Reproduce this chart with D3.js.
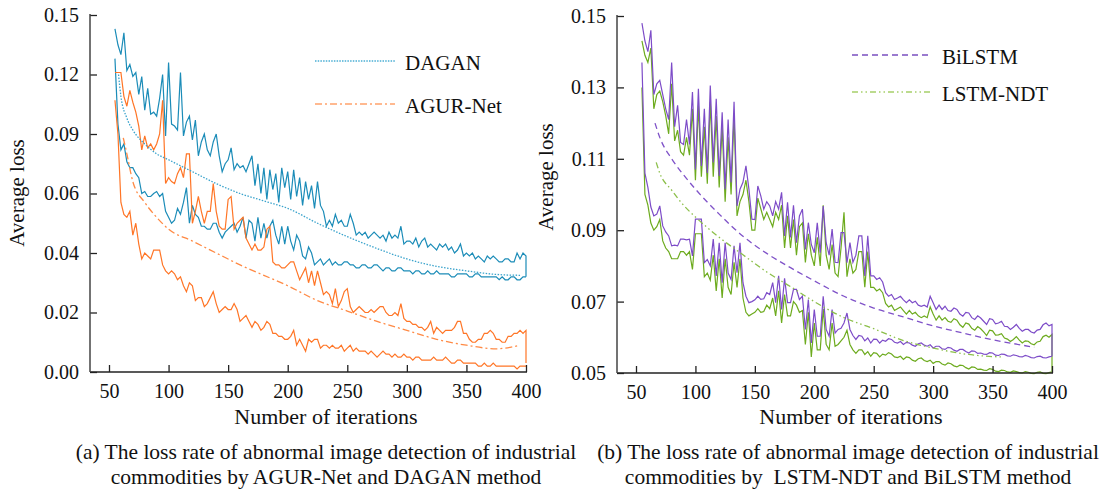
<!DOCTYPE html>
<html>
<head>
<meta charset="utf-8">
<script src="https://cdn.jsdelivr.net/npm/d3@7"></script>
<style>
    body { margin: 0; background: #fff; }
    svg text { font-family: "Liberation Serif", "Times New Roman", serif; fill: #111; }
</style>
</head>
<body>
<svg id="chart" width="1101" height="492"></svg>
<script>
// iterations shared by every noisy curve (the repeated 400 closes the band)
const iterations = [55, 57.5, 60, 62.5, 65, 67.5, 70, 72.5, 75, 77.5,
    80, 82.5, 85, 87.5, 90, 92.5, 95, 97.5, 100, 102.5,
    105, 107.5, 110, 112.5, 115, 117.5, 120, 122.5, 125, 127.5,
    130, 132.5, 135, 137.5, 140, 142.5, 145, 147.5, 150, 152.5,
    155, 157.5, 160, 162.5, 165, 167.5, 170, 172.5, 175, 177.5,
    180, 182.5, 185, 187.5, 190, 192.5, 195, 197.5, 200, 202.5,
    205, 207.5, 210, 212.5, 215, 217.5, 220, 222.5, 225, 227.5,
    230, 232.5, 235, 237.5, 240, 242.5, 245, 247.5, 250, 252.5,
    255, 257.5, 260, 262.5, 265, 267.5, 270, 272.5, 275, 277.5,
    280, 282.5, 285, 287.5, 290, 292.5, 295, 297.5, 300, 302.5,
    305, 307.5, 310, 312.5, 315, 317.5, 320, 322.5, 325, 327.5,
    330, 332.5, 335, 337.5, 340, 342.5, 345, 347.5, 350, 352.5,
    355, 357.5, 360, 362.5, 365, 367.5, 370, 372.5, 375, 377.5,
    380, 382.5, 385, 387.5, 390, 392.5, 395, 397.5, 400, 400];

const xTicks = [50, 100, 150, 200, 250, 300, 350, 400];
const yTicksA = [0.00, 0.02, 0.04, 0.06, 0.09, 0.12, 0.15];
const yTicksB = [0.05, 0.07, 0.09, 0.11, 0.13, 0.15];

// panel (a)
const daganUpper = [0.143, 0.135, 0.130, 0.141, 0.122, 0.125, 0.119, 0.121, 0.110, 0.119,
    0.102, 0.113, 0.100, 0.101, 0.099, 0.108, 0.120, 0.089, 0.126, 0.095,
    0.094, 0.092, 0.121, 0.089, 0.096, 0.099, 0.087, 0.097, 0.079, 0.086,
    0.090, 0.082, 0.079, 0.086, 0.090, 0.079, 0.071, 0.075, 0.077, 0.083,
    0.072, 0.075, 0.073, 0.074, 0.071, 0.075, 0.079, 0.064, 0.075, 0.060,
    0.073, 0.058, 0.072, 0.062, 0.070, 0.057, 0.073, 0.063, 0.071, 0.058,
    0.072, 0.059, 0.068, 0.056, 0.066, 0.058, 0.064, 0.055, 0.066, 0.056,
    0.054, 0.049, 0.051, 0.049, 0.053, 0.050, 0.051, 0.049, 0.049, 0.053,
    0.050, 0.046, 0.047, 0.046, 0.047, 0.045, 0.046, 0.047, 0.046, 0.045,
    0.046, 0.044, 0.047, 0.045, 0.046, 0.045, 0.049, 0.043, 0.044, 0.044,
    0.043, 0.045, 0.042, 0.044, 0.045, 0.042, 0.043, 0.042, 0.041, 0.043,
    0.042, 0.043, 0.041, 0.042, 0.040, 0.041, 0.043, 0.039, 0.040, 0.039,
    0.040, 0.038, 0.039, 0.038, 0.037, 0.039, 0.038, 0.039, 0.038, 0.037,
    0.037, 0.038, 0.038, 0.037, 0.037, 0.040, 0.038, 0.040, 0.039, 0.032];
const daganLower = [0.128, 0.095, 0.082, 0.085, 0.076, 0.073, 0.073, 0.070, 0.068, 0.060,
    0.061, 0.059, 0.059, 0.060, 0.061, 0.059, 0.060, 0.054, 0.052, 0.050,
    0.051, 0.055, 0.053, 0.057, 0.063, 0.050, 0.056, 0.053, 0.052, 0.049,
    0.049, 0.048, 0.048, 0.050, 0.050, 0.047, 0.045, 0.047, 0.048, 0.049,
    0.050, 0.047, 0.049, 0.052, 0.045, 0.051, 0.050, 0.044, 0.052, 0.045,
    0.050, 0.045, 0.049, 0.051, 0.046, 0.043, 0.049, 0.043, 0.049, 0.044,
    0.041, 0.046, 0.044, 0.039, 0.038, 0.042, 0.040, 0.036, 0.037, 0.038,
    0.036, 0.037, 0.038, 0.036, 0.037, 0.036, 0.036, 0.037, 0.037, 0.036,
    0.036, 0.035, 0.035, 0.036, 0.036, 0.035, 0.035, 0.036, 0.036, 0.035,
    0.034, 0.035, 0.035, 0.034, 0.034, 0.035, 0.035, 0.034, 0.034, 0.034,
    0.033, 0.034, 0.034, 0.033, 0.033, 0.034, 0.033, 0.033, 0.034, 0.033,
    0.033, 0.033, 0.033, 0.032, 0.032, 0.033, 0.033, 0.033, 0.033, 0.032,
    0.032, 0.033, 0.033, 0.032, 0.032, 0.032, 0.032, 0.032, 0.032, 0.031,
    0.032, 0.031, 0.031, 0.032, 0.032, 0.031, 0.031, 0.032, 0.032, 0.032];
const agurUpper = [0.121, 0.121, 0.121, 0.109, 0.104, 0.112, 0.106, 0.101, 0.094, 0.082,
    0.089, 0.083, 0.085, 0.082, 0.085, 0.090, 0.107, 0.065, 0.068, 0.066,
    0.065, 0.070, 0.073, 0.068, 0.080, 0.080, 0.050, 0.054, 0.059, 0.054,
    0.050, 0.054, 0.054, 0.065, 0.054, 0.049, 0.048, 0.048, 0.058, 0.059,
    0.048, 0.050, 0.051, 0.052, 0.045, 0.043, 0.041, 0.043, 0.041, 0.041,
    0.042, 0.048, 0.049, 0.037, 0.036, 0.036, 0.035, 0.035, 0.036, 0.037,
    0.037, 0.034, 0.031, 0.033, 0.035, 0.030, 0.034, 0.029, 0.034, 0.030,
    0.026, 0.027, 0.026, 0.023, 0.028, 0.022, 0.024, 0.027, 0.028, 0.022,
    0.020, 0.021, 0.022, 0.021, 0.020, 0.020, 0.021, 0.020, 0.021, 0.022,
    0.022, 0.020, 0.019, 0.019, 0.020, 0.019, 0.023, 0.018, 0.017, 0.017,
    0.016, 0.016, 0.015, 0.015, 0.014, 0.015, 0.017, 0.013, 0.015, 0.014,
    0.013, 0.014, 0.014, 0.014, 0.015, 0.017, 0.017, 0.013, 0.013, 0.011,
    0.010, 0.010, 0.011, 0.011, 0.013, 0.013, 0.014, 0.013, 0.011, 0.011,
    0.010, 0.010, 0.012, 0.012, 0.013, 0.013, 0.014, 0.013, 0.014, 0.003];
const agurLower = [0.107, 0.090, 0.057, 0.053, 0.052, 0.054, 0.046, 0.050, 0.043, 0.038,
    0.040, 0.039, 0.038, 0.041, 0.041, 0.041, 0.036, 0.034, 0.033, 0.034,
    0.033, 0.031, 0.032, 0.029, 0.027, 0.030, 0.029, 0.024, 0.025, 0.025,
    0.022, 0.023, 0.025, 0.027, 0.023, 0.020, 0.021, 0.022, 0.021, 0.021,
    0.023, 0.021, 0.017, 0.018, 0.019, 0.017, 0.015, 0.017, 0.016, 0.014,
    0.015, 0.017, 0.016, 0.013, 0.013, 0.012, 0.012, 0.011, 0.011, 0.012,
    0.014, 0.009, 0.011, 0.009, 0.007, 0.011, 0.010, 0.011, 0.011, 0.008,
    0.009, 0.009, 0.008, 0.009, 0.008, 0.008, 0.009, 0.007, 0.008, 0.009,
    0.007, 0.008, 0.007, 0.007, 0.007, 0.006, 0.007, 0.006, 0.005, 0.006,
    0.007, 0.006, 0.006, 0.005, 0.006, 0.005, 0.005, 0.006, 0.005, 0.005,
    0.004, 0.005, 0.005, 0.004, 0.004, 0.004, 0.004, 0.005, 0.004, 0.004,
    0.004, 0.005, 0.004, 0.003, 0.003, 0.004, 0.004, 0.003, 0.003, 0.003,
    0.003, 0.003, 0.002, 0.002, 0.003, 0.002, 0.002, 0.003, 0.002, 0.002,
    0.002, 0.002, 0.002, 0.002, 0.002, 0.001, 0.002, 0.002, 0.002, 0.002];
const daganTrendIter = [58, 60, 65, 70, 80, 90, 100, 120, 140, 160, 180, 200, 225, 250, 275, 300, 325, 350, 375, 395];
const daganTrend = [0.120, 0.109, 0.098, 0.092, 0.085, 0.080, 0.077, 0.071, 0.065, 0.060, 0.0575, 0.055, 0.050, 0.0455, 0.0415, 0.038, 0.0355, 0.034, 0.0328, 0.0325];
const agurTrendIter = [62, 65, 70, 80, 90, 100, 120, 140, 160, 180, 200, 225, 250, 275, 300, 325, 350, 375, 395];
const agurTrend = [0.088, 0.080, 0.066, 0.057, 0.052, 0.048, 0.044, 0.040, 0.036, 0.0325, 0.029, 0.024, 0.0205, 0.017, 0.014, 0.011, 0.009, 0.0078, 0.009];

// panel (b)
const bilstmUpper = [0.148, 0.143, 0.140, 0.146, 0.128, 0.131, 0.132, 0.128, 0.124, 0.121,
    0.137, 0.119, 0.125, 0.1146, 0.114, 0.121, 0.114, 0.1287, 0.107, 0.1296,
    0.108, 0.124, 0.106, 0.1305, 0.109, 0.1268, 0.1052, 0.123, 0.1015, 0.121,
    0.1034, 0.126, 0.0968, 0.1015, 0.1034, 0.108, 0.1015, 0.0931, 0.093, 0.1024,
    0.0996, 0.0959, 0.098, 0.0968, 0.094, 0.098, 0.0959, 0.1006, 0.0884, 0.0978,
    0.088, 0.097, 0.0865, 0.094, 0.0959, 0.0846, 0.0921, 0.086, 0.0837, 0.0921,
    0.0837, 0.0968, 0.0865, 0.083, 0.0903, 0.081, 0.0809, 0.0893, 0.0893, 0.0809,
    0.0865, 0.081, 0.083, 0.0884, 0.0884, 0.0772, 0.0884, 0.0772, 0.0772, 0.0762,
    0.0767, 0.0755, 0.0725, 0.0715, 0.072, 0.0706, 0.071, 0.0715, 0.0705, 0.0697,
    0.0705, 0.0697, 0.0701, 0.069, 0.0687, 0.069, 0.0685, 0.0715, 0.0697, 0.0678,
    0.069, 0.0678, 0.0687, 0.0675, 0.0673, 0.0682, 0.0678, 0.0665, 0.0659, 0.067,
    0.0668, 0.0655, 0.065, 0.066, 0.0654, 0.0645, 0.0636, 0.0652, 0.065, 0.0638,
    0.064, 0.0645, 0.0631, 0.063, 0.0622, 0.0628, 0.0636, 0.0625, 0.0617, 0.0622,
    0.0622, 0.0615, 0.0612, 0.062, 0.0622, 0.0635, 0.064, 0.0632, 0.0636, 0.0547];
const lstmUpper = [0.143, 0.139, 0.137, 0.141, 0.124, 0.128, 0.129, 0.126, 0.122, 0.117,
    0.131, 0.115, 0.118, 0.112, 0.111, 0.116, 0.111, 0.124, 0.104, 0.125,
    0.105, 0.119, 0.103, 0.126, 0.105, 0.122, 0.102, 0.119, 0.098, 0.116,
    0.100, 0.122, 0.094, 0.098, 0.100, 0.104, 0.098, 0.090, 0.090, 0.099,
    0.096, 0.093, 0.095, 0.093, 0.091, 0.095, 0.093, 0.097, 0.085, 0.094,
    0.085, 0.093, 0.083, 0.091, 0.092, 0.081, 0.089, 0.083, 0.080, 0.088,
    0.080, 0.097, 0.083, 0.079, 0.086, 0.078, 0.077, 0.085, 0.095, 0.077,
    0.082, 0.078, 0.079, 0.084, 0.084, 0.074, 0.084, 0.074, 0.074, 0.073,
    0.0735, 0.0725, 0.0695, 0.0685, 0.069, 0.0675, 0.068, 0.0685, 0.0675, 0.0665,
    0.0675, 0.0665, 0.067, 0.066, 0.0655, 0.066, 0.0655, 0.0685, 0.0665, 0.0648,
    0.066, 0.0648, 0.0655, 0.0645, 0.0642, 0.0652, 0.0648, 0.0635, 0.0628, 0.064,
    0.0637, 0.0625, 0.062, 0.063, 0.0624, 0.0615, 0.0605, 0.062, 0.0618, 0.0606,
    0.0607, 0.061, 0.0598, 0.0595, 0.0588, 0.0594, 0.0602, 0.0592, 0.0584, 0.059,
    0.0589, 0.0582, 0.0579, 0.0587, 0.0589, 0.0602, 0.0606, 0.060, 0.0608, 0.0505];
const bilstmLower = [0.137, 0.106, 0.102, 0.0965, 0.094, 0.0945, 0.0968, 0.0912, 0.0895, 0.0884,
    0.0856, 0.0858, 0.0856, 0.0875, 0.0875, 0.0873, 0.0875, 0.0828, 0.0931, 0.0931,
    0.0931, 0.0809, 0.0818, 0.080, 0.0875, 0.0772, 0.0865, 0.0753, 0.0865, 0.078,
    0.0762, 0.0856, 0.0781, 0.0865, 0.0753, 0.0715, 0.0697, 0.070, 0.0705, 0.0715,
    0.0706, 0.0708, 0.0725, 0.072, 0.0753, 0.0697, 0.0772, 0.0678, 0.0765, 0.0697,
    0.0697, 0.0734, 0.0734, 0.0706, 0.0715, 0.0622, 0.0706, 0.0584, 0.0678, 0.0603,
    0.0603, 0.0715, 0.0622, 0.0603, 0.0678, 0.0612, 0.0622, 0.0625, 0.064, 0.0668,
    0.0622, 0.0605, 0.0594, 0.0605, 0.0603, 0.059, 0.0598, 0.0584, 0.0595, 0.0594,
    0.0584, 0.0592, 0.0589, 0.0596, 0.0594, 0.0586, 0.0584, 0.0588, 0.058, 0.0586,
    0.0584, 0.0578, 0.0575, 0.0582, 0.0584, 0.0578, 0.0575, 0.0579, 0.057, 0.0575,
    0.0575, 0.0568, 0.0566, 0.0572, 0.057, 0.0564, 0.0561, 0.0566, 0.0566, 0.056,
    0.0556, 0.0562, 0.0561, 0.0555, 0.0556, 0.0553, 0.0552, 0.0557, 0.0556, 0.055,
    0.0549, 0.0553, 0.0552, 0.0548, 0.0547, 0.0551, 0.0549, 0.0546, 0.0545, 0.0549,
    0.0547, 0.0543, 0.0542, 0.0546, 0.0547, 0.0543, 0.0542, 0.0545, 0.0547, 0.0547];
const lstmLower = [0.130, 0.100, 0.097, 0.092, 0.090, 0.091, 0.093, 0.087, 0.085, 0.084,
    0.082, 0.082, 0.082, 0.084, 0.084, 0.083, 0.084, 0.079, 0.089, 0.089,
    0.089, 0.077, 0.078, 0.076, 0.083, 0.073, 0.082, 0.071, 0.082, 0.074,
    0.072, 0.081, 0.074, 0.082, 0.071, 0.067, 0.066, 0.0665, 0.067, 0.068,
    0.067, 0.0672, 0.069, 0.068, 0.071, 0.066, 0.073, 0.064, 0.072, 0.066,
    0.066, 0.070, 0.069, 0.067, 0.0675, 0.058, 0.067, 0.0545, 0.064, 0.0565,
    0.0565, 0.068, 0.058, 0.0565, 0.064, 0.0575, 0.058, 0.059, 0.060, 0.062,
    0.058, 0.0565, 0.0555, 0.0565, 0.0565, 0.0552, 0.056, 0.0547, 0.0557, 0.0555,
    0.0545, 0.0553, 0.055, 0.0557, 0.0553, 0.0545, 0.0543, 0.0547, 0.0538, 0.0545,
    0.0543, 0.0536, 0.0533, 0.054, 0.0542, 0.0535, 0.0532, 0.0536, 0.0527, 0.0532,
    0.0532, 0.0525, 0.0522, 0.0528, 0.0526, 0.052, 0.0517, 0.0522, 0.0521, 0.0515,
    0.0511, 0.0517, 0.0516, 0.051, 0.0511, 0.0508, 0.0507, 0.0512, 0.051, 0.0505,
    0.0504, 0.0508, 0.0507, 0.0503, 0.0502, 0.0506, 0.0504, 0.0501, 0.050, 0.0504,
    0.0502, 0.0499, 0.0498, 0.0502, 0.0503, 0.0499, 0.0498, 0.0501, 0.0503, 0.0503];
const bilstmTrendIter = [66, 70, 80, 90, 100, 120, 140, 160, 180, 200, 225, 250, 275, 300, 325, 350, 375, 385];
const bilstmTrend = [0.120, 0.116, 0.110, 0.1055, 0.1015, 0.0945, 0.0883, 0.0835, 0.0795, 0.0758, 0.0715, 0.0682, 0.0657, 0.0632, 0.0612, 0.0593, 0.0578, 0.0572];
const lstmTrendIter = [67, 70, 80, 90, 100, 120, 140, 160, 180, 200, 225, 250, 275, 300, 325, 350, 357];
const lstmTrend = [0.109, 0.106, 0.1012, 0.097, 0.0937, 0.088, 0.0831, 0.0783, 0.0742, 0.070, 0.0655, 0.0624, 0.0591, 0.057, 0.0554, 0.0546, 0.0545];

const svg = d3.select('#chart');
const axisColor = '#222';

function drawPanel(p) {
    let g = svg.append('g');

    //scales: y ticks are evenly spaced on screen
    let x = d3.scaleLinear().domain([50, 400]).range([p.x50, p.right]);
    let step = (p.bottom - p.top) / (p.yTicks.length - 1);
    let y = d3.scaleLinear().domain(p.yTicks).range(p.yTicks.map((d, i) => p.bottom - i * step));

    //noisy curves
    let line = d3.line().x((d, i) => x(iterations[i])).y((d) => y(d));
    p.series.forEach((s) => {
        g.append('path')
            .datum(s.values)
            .attr('d', line)
            .attr('fill', 'none')
            .attr('stroke', s.color)
            .attr('stroke-width', 1.2);
    });

    //fitted trend curves
    p.trends.forEach((t) => {
        let tl = d3.line().x((d, i) => x(t.iters[i])).y((d) => y(d)).curve(d3.curveMonotoneX);
        g.append('path')
            .datum(t.values)
            .attr('d', tl)
            .attr('fill', 'none')
            .attr('stroke', t.color)
            .attr('stroke-width', 1.3)
            .attr('stroke-dasharray', t.dash);
    });

    //axes
    let xa = g.append('g')
        .attr('transform', 'translate(0,' + p.bottom + ')')
        .call(d3.axisBottom(x).tickValues(xTicks).tickSize(-7).tickPadding(12).tickFormat(d3.format('d')));
    let ya = g.append('g')
        .attr('transform', 'translate(' + p.axisX + ',0)')
        .call(d3.axisLeft(y).tickValues(p.yTicks).tickSize(-7).tickPadding(11).tickFormat(d3.format('.2f')));
    [xa, ya].forEach((a) => {
        a.select('.domain').remove();
        a.attr('font-family', null).attr('font-size', null);
        a.selectAll('line').attr('stroke', axisColor).attr('stroke-width', 1.3);
        a.selectAll('text').style('font-size', '20px');
    });
    g.append('line')
        .attr('x1', p.axisX).attr('x2', p.right + 1)
        .attr('y1', p.bottom).attr('y2', p.bottom)
        .attr('stroke', axisColor).attr('stroke-width', 1.5);
    g.append('line')
        .attr('x1', p.axisX).attr('x2', p.axisX)
        .attr('y1', p.top - 1).attr('y2', p.bottom)
        .attr('stroke', '#444').attr('stroke-width', 1.5);

    //axis titles
    g.append('text')
        .text('Number of iterations')
        .attr('x', p.xTitleX).attr('y', 424)
        .attr('text-anchor', 'middle')
        .style('font-size', '22px');
    g.append('text')
        .text('Average loss')
        .attr('transform', 'translate(' + p.yTitleX + ',' + p.yTitleY + ') rotate(-90)')
        .attr('text-anchor', 'middle')
        .style('font-size', '21px');

    //legend
    p.legend.forEach((l) => {
        g.append('line')
            .attr('x1', l.x).attr('x2', l.x + 80)
            .attr('y1', l.y).attr('y2', l.y)
            .attr('stroke', l.color)
            .attr('stroke-width', 1.5)
            .attr('stroke-dasharray', l.dash);
        g.append('text')
            .text(l.name)
            .attr('x', l.x + 90).attr('y', l.y + 9)
            .style('font-size', '21px');
    });

    //caption
    p.caption.forEach((c, i) => {
        g.append('text')
            .text(c)
            .attr('x', p.captionX).attr('y', 459 + i * 25)
            .attr('text-anchor', 'middle')
            .style('font-size', '21.5px')
            .style('white-space', 'pre');
    });
}

drawPanel({
    axisX: 90, x50: 109, right: 526, top: 15, bottom: 372,
    yTicks: yTicksA,
    series: [
        { values: daganUpper, color: '#1b8cb8' },
        { values: daganLower, color: '#1b8cb8' },
        { values: agurUpper, color: '#ff7526' },
        { values: agurLower, color: '#ff7526' }
    ],
    trends: [
        { iters: daganTrendIter, values: daganTrend, color: '#3aa3cc', dash: '1.5,1.5' },
        { iters: agurTrendIter, values: agurTrend, color: '#ff8a45', dash: '7,3,2,3' }
    ],
    legend: [
        { name: 'DAGAN', x: 315, y: 61, color: '#4aaed4', dash: '1.5,1.2' },
        { name: 'AGUR-Net', x: 315, y: 104, color: '#ffa36c', dash: '7,3,2,3' }
    ],
    xTitleX: 326, yTitleX: 24, yTitleY: 193,
    captionX: 326,
    caption: ['(a) The loss rate of abnormal image detection of industrial',
        'commodities by AGUR-Net and DAGAN method']
});

drawPanel({
    axisX: 617, x50: 636, right: 1052, top: 16, bottom: 373,
    yTicks: yTicksB,
    series: [
        { values: lstmUpper, color: '#6dab1e' },
        { values: lstmLower, color: '#6dab1e' },
        { values: bilstmUpper, color: '#7d4cc8' },
        { values: bilstmLower, color: '#7d4cc8' }
    ],
    trends: [
        { iters: bilstmTrendIter, values: bilstmTrend, color: '#7f52c8', dash: '6,4' },
        { iters: lstmTrendIter, values: lstmTrend, color: '#8cbf4a', dash: '6,3,1.5,3,1.5,3' }
    ],
    legend: [
        { name: 'BiLSTM', x: 852, y: 55, color: '#7a4fc0', dash: '6,4' },
        { name: 'LSTM-NDT', x: 852, y: 92, color: '#a6cf6a', dash: '6,3,1.5,3,1.5,3' }
    ],
    xTitleX: 851, yTitleX: 553, yTitleY: 177,
    captionX: 848,
    caption: ['(b) The loss rate of abnormal image detection of industrial',
        'commodities by  LSTM-NDT and BiLSTM method']
});
</script>
</body>
</html>
